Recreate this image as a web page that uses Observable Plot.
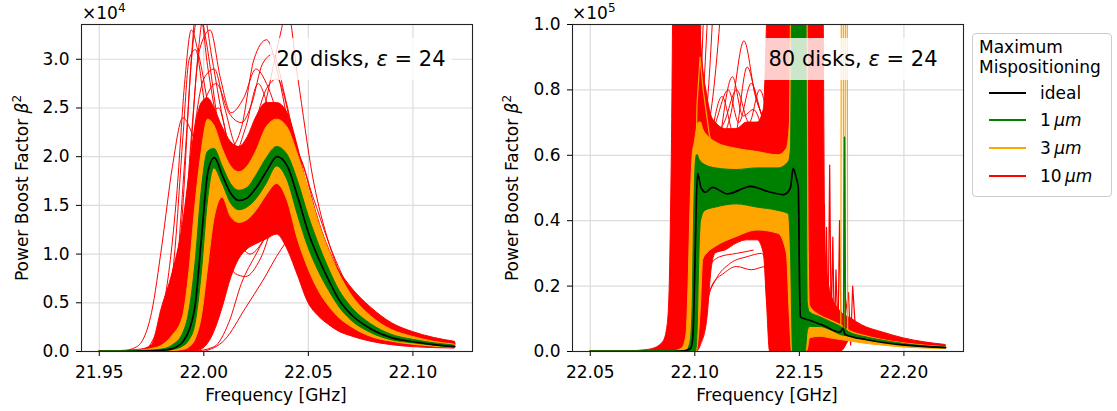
<!DOCTYPE html>
<html><head><meta charset="utf-8">
<script src="https://cdn.jsdelivr.net/npm/d3@7"></script>
<script src="https://cdn.jsdelivr.net/npm/@observablehq/plot@0.6"></script>
<style>
body{margin:0;background:#fff;font-family:"DejaVu Sans",sans-serif;}
#wrap{position:relative;width:1117px;height:411px;overflow:hidden;background:#fff;}
.abs{position:absolute;white-space:nowrap;color:#000;font-size:17px;line-height:20px;}
.panel{position:absolute;top:0;}
.ann{position:absolute;background:rgba(255,255,255,0.8);font-size:21px;line-height:42px;text-align:center;white-space:nowrap;}
#legend{position:absolute;left:972px;top:33px;width:140px;height:164px;border:1px solid #cccccc;border-radius:4px;background:rgba(255,255,255,0.85);box-sizing:border-box;}
.lg{position:absolute;height:0;border-top:2px solid;width:37px;}
sup{font-size:12px;line-height:0;}
</style></head><body><div id="wrap"></div>
<script>
// ---------- Left panel: 20 disks (values in units of 1e4) ----------
const fL = [21.95, 21.96, 21.97, 21.975, 21.98, 21.985, 21.99, 21.993, 21.996, 21.999, 22.002, 22.005, 22.009, 22.013, 22.017, 22.021, 22.025, 22.03, 22.035, 22.04, 22.045, 22.05, 22.055, 22.06, 22.065, 22.07, 22.08, 22.09, 22.10, 22.11, 22.12];
const idealL =   [0, 0, 0.003, 0.006, 0.012, 0.03, 0.1, 0.22, 0.5, 1.2, 1.85, 1.99, 1.8, 1.62, 1.55, 1.58, 1.68, 1.85, 2.0, 1.9, 1.58, 1.22, 0.95, 0.72, 0.52, 0.39, 0.23, 0.14, 0.10, 0.07, 0.05];
const greenHiL = [0, 0, 0.005, 0.01, 0.02, 0.06, 0.18, 0.4, 0.9, 1.65, 2.05, 2.08, 1.9, 1.72, 1.65, 1.68, 1.8, 1.98, 2.1, 2.02, 1.75, 1.4, 1.1, 0.84, 0.62, 0.47, 0.28, 0.17, 0.12, 0.085, 0.06];
const greenLoL = [0, 0, 0.001, 0.003, 0.006, 0.015, 0.05, 0.11, 0.28, 0.8, 1.55, 1.88, 1.72, 1.52, 1.45, 1.48, 1.56, 1.72, 1.9, 1.76, 1.4, 1.07, 0.82, 0.62, 0.45, 0.33, 0.19, 0.115, 0.085, 0.06, 0.043];
const orangeHiL = [0, 0.002, 0.01, 0.025, 0.06, 0.16, 0.35, 0.8, 1.5, 2.05, 2.38, 2.32, 2.08, 1.9, 1.84, 1.9, 2.05, 2.3, 2.38, 2.3, 2.02, 1.68, 1.32, 1.03, 0.79, 0.6, 0.36, 0.22, 0.15, 0.1, 0.07];
const orangeLoL = [0, 0, 0, 0, 0.001, 0.004, 0.015, 0.04, 0.12, 0.35, 0.85, 1.35, 1.58, 1.38, 1.32, 1.35, 1.44, 1.6, 1.72, 1.55, 1.15, 0.85, 0.62, 0.46, 0.34, 0.26, 0.15, 0.1, 0.07, 0.05, 0.04];
const redHiL = [0, 0.005, 0.02, 0.06, 0.45, 0.8, 1.3, 1.8, 2.3, 2.55, 2.6, 2.5, 2.3, 2.15, 2.1, 2.2, 2.4, 2.55, 2.55, 2.45, 2.1, 1.65, 1.3, 1.0, 0.82, 0.67, 0.45, 0.29, 0.2, 0.14, 0.1];
const redLoL = [0, 0, 0, 0, 0, 0, 0, 0, 0, 0.02, 0.08, 0.2, 0.45, 0.75, 0.95, 1.05, 1.1, 1.15, 1.2, 1.05, 0.78, 0.5, 0.36, 0.27, 0.2, 0.16, 0.1, 0.065, 0.045, 0.035, 0.03];
const redRunsL = [
  [[21.975,0],[21.985,0.3],[21.99,1.5],[21.994,3.0],[21.997,3.6],[22.001,3.2],[22.008,2.2],[22.016,1.8],[22.026,2.1],[22.034,2.5],[22.042,2.2],[22.05,1.5],[22.06,0.9],[22.08,0.35],[22.10,0.15],[22.12,0.08]],
  [[21.97,0],[21.98,0.2],[21.986,1.0],[21.99,2.2],[21.993,3.0],[21.996,3.1],[22.0,2.6],[22.008,1.7],[22.014,1.45],[22.022,1.7],[22.03,2.2],[22.036,2.3],[22.044,1.7],[22.05,1.2],[22.06,0.7],[22.08,0.28],[22.10,0.12],[22.12,0.06]],
  [[21.98,0],[21.99,0.4],[21.996,1.4],[22.002,2.3],[22.007,2.5],[22.013,2.1],[22.018,2.3],[22.024,3.0],[22.03,3.2],[22.036,2.8],[22.043,2.0],[22.05,1.3],[22.06,0.75],[22.08,0.3],[22.10,0.13],[22.12,0.07]],
  [[21.985,0],[21.995,0.6],[22.002,1.8],[22.008,2.1],[22.015,1.7],[22.022,1.9],[22.03,2.6],[22.036,3.2],[22.04,3.5],[22.045,2.8],[22.052,1.8],[22.06,1.1],[22.07,0.6],[22.09,0.22],[22.12,0.08]],
  [[21.99,0],[22.0,0.1],[22.008,0.6],[22.015,1.2],[22.02,1.25],[22.027,1.35],[22.036,1.75],[22.043,1.85],[22.05,1.5],[22.058,1.0],[22.068,0.6],[22.08,0.35],[22.10,0.15],[22.12,0.08]],
  [[21.995,0],[22.005,0.05],[22.012,0.3],[22.018,0.7],[22.025,1.0],[22.033,1.3],[22.042,1.55],[22.05,1.3],[22.06,0.85],[22.075,0.45],[22.10,0.17],[22.12,0.09]],
  [[21.975,0],[21.985,0.15],[21.992,0.8],[21.998,1.5],[22.003,1.75],[22.008,1.3],[22.015,0.8],[22.02,0.77],[22.027,0.95],[22.035,1.4],[22.04,1.5],[22.046,1.2],[22.055,0.7],[22.065,0.4],[22.08,0.2],[22.10,0.09],[22.12,0.05]],
  [[21.96,0],[21.968,0.05],[21.975,0.4],[21.98,1.1],[21.985,1.9],[21.99,2.4],[21.995,2.2],[22.003,1.6],[22.01,1.4],[22.018,1.6],[22.026,2.2],[22.032,2.4],[22.038,2.0],[22.045,1.3],[22.05,0.9],[22.06,0.45],[22.075,0.2],[22.10,0.08],[22.12,0.05]],
  [[21.975,0],[21.985,0.4],[21.99,1.2],[21.995,2.2],[22.0,2.8],[22.005,2.9],[22.01,2.5],[22.016,2.1],[22.022,2.2],[22.03,2.7],[22.035,2.8],[22.042,2.3],[22.05,1.6],[22.06,0.95],[22.08,0.38],[22.10,0.16],[22.12,0.09]],
  [[21.98,0],[21.988,0.5],[21.993,1.8],[21.997,3.0],[22.0,3.45],[22.004,3.0],[22.009,2.4],[22.014,2.0],[22.02,2.3],[22.026,2.75],[22.031,2.5],[22.04,1.9],[22.05,1.2],[22.06,0.7],[22.08,0.28],[22.12,0.07]],
  [[22.0,0],[22.01,0.12],[22.02,0.45],[22.028,0.72],[22.037,1.05],[22.045,1.25],[22.052,1.1],[22.06,0.75],[22.07,0.48],[22.085,0.25],[22.10,0.14],[22.12,0.08]],
  [[21.985,0],[21.992,0.5],[21.998,1.6],[22.003,2.0],[22.009,1.6],[22.016,1.2],[22.022,1.3],[22.03,1.8],[22.038,2.2],[22.046,2.0],[22.054,1.4],[22.064,0.8],[22.08,0.34],[22.10,0.15],[22.12,0.08]],
  [[21.978,0],[21.986,0.6],[21.991,2.0],[21.995,3.2],[21.998,3.5],[22.002,2.9],[22.01,2.0],[22.017,1.7],[22.024,2.0],[22.031,2.4],[22.039,2.1],[22.048,1.4],[22.06,0.75],[22.08,0.3],[22.12,0.07]],
  [[21.982,0],[21.989,0.7],[21.994,2.2],[21.998,3.1],[22.003,3.3],[22.008,2.8],[22.013,2.45],[22.019,2.6],[22.025,2.9],[22.03,2.75],[22.037,2.3],[22.046,1.6],[22.056,0.95],[22.075,0.38],[22.12,0.08]],
  [[21.983,0],[21.99,0.6],[21.996,1.9],[22.001,2.6],[22.006,2.75],[22.012,2.45],[22.018,2.35],[22.023,2.55],[22.028,2.95],[22.033,3.05],[22.039,2.6],[22.047,1.8],[22.057,1.05],[22.075,0.42],[22.12,0.09]],
  [[21.972,0],[21.981,0.5],[21.987,1.6],[21.991,2.8],[21.994,3.3],[21.998,3.0],[22.004,2.3],[22.011,1.8],[22.018,1.9],[22.026,2.35],[22.032,2.5],[22.04,2.05],[22.048,1.35],[22.06,0.65],[22.08,0.25],[22.12,0.06]],
  [[21.99,0],[21.998,0.4],[22.004,1.3],[22.01,1.6],[22.016,1.3],[22.022,1.25],[22.03,1.5],[22.038,1.95],[22.045,2.0],[22.052,1.6],[22.06,1.1],[22.072,0.55],[22.09,0.24],[22.12,0.09]],
  [[21.994,0],[22.003,0.3],[22.01,0.95],[22.016,1.1],[22.022,1.0],[22.03,1.2],[22.039,1.65],[22.047,1.7],[22.055,1.3],[22.065,0.8],[22.08,0.4],[22.10,0.18],[22.12,0.1]]
];

// ---------- Right panel: 80 disks (values in units of 1e5) ----------
const fIdealR = [22.05, 22.09, 22.095, 22.098, 22.099, 22.0995, 22.1, 22.1005, 22.1013, 22.103, 22.1052, 22.1084, 22.1156, 22.1267, 22.1346, 22.1425, 22.1457, 22.147, 22.1484, 22.1495, 22.1501, 22.1505, 22.1552, 22.1614, 22.1695, 22.1708, 22.1719, 22.1822, 22.1981, 22.22];
const idealR = [0, 0, 0.002, 0.01, 0.04, 0.12, 0.25, 0.4, 0.545, 0.5, 0.487, 0.502, 0.482, 0.505, 0.49, 0.48, 0.50, 0.56, 0.533, 0.5, 0.2, 0.105, 0.095, 0.08, 0.059, 0.07, 0.052, 0.036, 0.021, 0.012];
const fGreenR = [22.05, 22.096, 22.098, 22.099, 22.0995, 22.1, 22.1005, 22.101, 22.1015, 22.102, 22.103, 22.105, 22.11, 22.12, 22.13, 22.14, 22.145, 22.146, 22.147, 22.153, 22.154, 22.155, 22.16, 22.165, 22.17, 22.175, 22.18, 22.19, 22.20, 22.21, 22.22];
const greenHiR = [0, 0.001, 0.03, 0.15, 0.35, 0.5, 0.58, 0.6, 0.6, 0.59, 0.58, 0.57, 0.56, 0.555, 0.56, 0.56, 0.58, 0.62, 1.5, 1.5, 0.15, 0.12, 0.105, 0.09, 0.075, 0.055, 0.046, 0.033, 0.023, 0.016, 0.012];
const greenLoR = [0, 0, 0, 0, 0, 0, 0, 0.02, 0.1, 0.25, 0.4, 0.43, 0.44, 0.45, 0.44, 0.43, 0.42, 0.3, 0, 0, 0.06, 0.075, 0.075, 0.065, 0.05, 0.045, 0.038, 0.028, 0.019, 0.013, 0.01];
const fOrangeR = [22.05, 22.09, 22.094, 22.096, 22.097, 22.098, 22.099, 22.1, 22.101, 22.102, 22.103, 22.104, 22.106, 22.11, 22.12, 22.13, 22.14, 22.144, 22.1455, 22.1465, 22.1535, 22.1545, 22.155, 22.16, 22.165, 22.17, 22.175, 22.18, 22.19, 22.20, 22.21, 22.22];
const orangeHiR = [0, 0.001, 0.01, 0.05, 0.2, 0.45, 0.6, 0.64, 0.68, 0.7, 0.7, 0.68, 0.66, 0.64, 0.62, 0.61, 0.6, 0.62, 0.7, 1.5, 1.5, 0.3, 0.14, 0.11, 0.095, 0.08, 0.06, 0.05, 0.035, 0.025, 0.018, 0.013];
const orangeLoR = [0, 0, 0, 0, 0, 0, 0, 0, 0, 0.05, 0.15, 0.28, 0.3, 0.32, 0.35, 0.37, 0.36, 0.3, 0.1, 0, 0, 0.02, 0.04, 0.045, 0.04, 0.035, 0.03, 0.025, 0.018, 0.012, 0.009, 0.007];
const fRedR = [22.05, 22.07, 22.075, 22.08, 22.085, 22.087, 22.088, 22.089, 22.0905, 22.0995, 22.101, 22.103, 22.106, 22.108, 22.11, 22.115, 22.12, 22.125, 22.13, 22.133, 22.1345, 22.136, 22.146, 22.154, 22.161, 22.1625, 22.165, 22.17, 22.175, 22.18, 22.19, 22.20, 22.21, 22.22];
const redHiR = [0, 0.001, 0.003, 0.008, 0.03, 0.08, 0.2, 0.6, 1.5, 1.5, 1.5, 0.95, 0.78, 0.72, 0.7, 0.68, 0.68, 0.7, 0.7, 0.74, 1.0, 1.5, 1.5, 1.5, 1.5, 0.3, 0.18, 0.12, 0.1, 0.08, 0.058, 0.04, 0.028, 0.02];
const redLoR = [0, 0, 0, 0, 0, 0, 0, 0, 0, 0, 0, 0.02, 0.1, 0.25, 0.3, 0.31, 0.33, 0.34, 0.34, 0.3, 0.15, 0, 0, 0, 0, 0, 0, 0, 0.04, 0.035, 0.025, 0.017, 0.012, 0.009];
const redRunsR = [
  [[22.106,0.62],[22.11,0.7],[22.116,0.8],[22.121,0.7],[22.127,0.82],[22.132,0.72],[22.136,0.65]],
  [[22.11,0.62],[22.117,0.72],[22.1235,0.95],[22.129,0.78],[22.134,0.7]],
  [[22.108,0.66],[22.113,0.78],[22.119,0.66],[22.125,0.87],[22.13,0.76],[22.135,0.68]],
  [[22.112,0.64],[22.118,0.84],[22.123,0.72],[22.128,0.74],[22.133,0.66]],
  [[22.109,0.65],[22.114,0.7],[22.12,0.8],[22.126,0.7],[22.131,0.8],[22.136,0.66]],
  [[22.1005,0.3],[22.1025,0.9],[22.104,1.3]],
  [[22.101,0.4],[22.104,1.0],[22.106,1.3]],
  [[22.1015,0.5],[22.1055,0.95],[22.108,1.3]],
  [[22.102,0.55],[22.107,0.85],[22.1105,1.3]],
  [[22.103,0.6],[22.109,0.8],[22.113,1.1],[22.115,1.3]],
  [[22.1,0],[22.102,0.04],[22.105,0.14],[22.11,0.22],[22.117,0.27],[22.125,0.29],[22.132,0.3],[22.136,0.18],[22.138,0]],
  [[22.101,0],[22.104,0.08],[22.108,0.2],[22.114,0.24],[22.12,0.26],[22.127,0.25],[22.134,0.26],[22.137,0.1],[22.139,0]],
  [[22.1005,0],[22.1025,0.1],[22.106,0.25],[22.112,0.29],[22.12,0.3],[22.128,0.31]]
];
const redSpikesR = [[22.1615,0.05],[22.162,0.45],[22.1625,0.02],[22.163,0.38],[22.1637,0.04],[22.1645,0.57],[22.1652,0.06],[22.166,0.35],[22.1668,0.02],[22.1675,0.25],[22.1685,0.05],[22.1692,0.4],[22.17,0.03],[22.1735,0.18],[22.1745,0.02],[22.1755,0.2],[22.177,0.05]];
const orangeRunsR = [
  [[22.0985,0],[22.1,0.4],[22.101,0.75],[22.1025,0.9],[22.104,0.8],[22.107,0.66],[22.11,0.6]],
  [[22.1698,0.05],[22.1702,1.5],[22.1709,1.5],[22.1712,0.05]],
  [[22.1718,0.05],[22.1721,1.5],[22.1728,1.5],[22.1731,0.05]]
];
const greenSpikeR = [[22.1711,0.06],[22.1716,0.655],[22.1721,0.06]];

// ---------- Axis ticks ----------
const xTicksL = [21.95, 22.00, 22.05, 22.10];
const yTicksL = [0, 0.5, 1.0, 1.5, 2.0, 2.5, 3.0];
const xTicksR = [22.05, 22.10, 22.15, 22.20];
const yTicksR = [0, 0.2, 0.4, 0.6, 0.8, 1.0];

// ---------- helpers ----------
const band = (f, lo, hi) => f.map((x, i) => ({x, lo: lo[i], hi: hi[i]}));
const series = (f, v) => f.map((x, i) => ({x, y: v[i]}));
const RED = "#ff0000", ORANGE = "#ffa500", GREEN = "#008000";

function areaMark(data, color) {
  return Plot.areaY(data, {x: "x", y1: "lo", y2: "hi", fill: color, stroke: color, strokeWidth: 1, curve: "monotone-x", clip: true});
}
function runMark(pairs, color, curve = "monotone-x", w = 1) {
  return Plot.line(pairs, {x: d => d[0], y: d => d[1], stroke: color, strokeWidth: w, curve, clip: true});
}

function panel(opts) {
  return Plot.plot({
    width: opts.width, height: 411,
    marginLeft: opts.ml, marginRight: opts.mr, marginTop: 24, marginBottom: 60,
    style: {fontSize: "17px", fontFamily: "DejaVu Sans", color: "black", background: "transparent", overflow: "visible"},
    x: {domain: opts.xd, ticks: opts.xt, tickFormat: d => d.toFixed(2), tickSize: 5, tickPadding: 9, label: null},
    y: {domain: opts.yd, ticks: opts.yt, tickFormat: d => d.toFixed(1), tickSize: 5, tickPadding: 7, label: null},
    marks: [
      Plot.gridX(opts.xt, {stroke: "#dcdcdc", strokeOpacity: 1, strokeWidth: 1.2}),
      Plot.gridY(opts.yt, {stroke: "#dcdcdc", strokeOpacity: 1, strokeWidth: 1.2}),
      ...opts.marks,
      Plot.frame({stroke: "#222", strokeWidth: 1.1})
    ]
  });
}

const left = panel({
  width: 490, ml: 81, mr: 18, xd: [21.9415, 22.1285], yd: [0, 3.357], xt: xTicksL, yt: yTicksL,
  marks: [
    areaMark(band(fL, redLoL, redHiL), RED),
    ...redRunsL.map(p => runMark(p, RED)),
    areaMark(band(fL, orangeLoL, orangeHiL), ORANGE),
    areaMark(band(fL, greenLoL, greenHiL), GREEN),
    Plot.line(series(fL, idealL), {x: "x", y: "y", stroke: "black", strokeWidth: 1.7, curve: "monotone-x", clip: true})
  ]
});
const right = panel({
  width: 480, ml: 82, mr: 7, xd: [22.0415, 22.2285], yd: [0, 1], xt: xTicksR, yt: yTicksR,
  marks: [
    areaMark(band(fRedR, redLoR, redHiR), RED),
    ...redRunsR.map(p => runMark(p, RED)),
    runMark(redSpikesR, RED, "linear", 1.2),
    areaMark(band(fOrangeR, orangeLoR, orangeHiR), ORANGE),
    ...orangeRunsR.map(p => runMark(p, ORANGE, "linear", 1.2)),
    areaMark(band(fGreenR, greenLoR, greenHiR), GREEN),
    runMark(greenSpikeR, GREEN, "linear", 1.5),
    Plot.line(series(fIdealR, idealR), {x: "x", y: "y", stroke: "black", strokeWidth: 1.7, curve: "monotone-x", clip: true})
  ]
});

const wrap = document.getElementById("wrap");
left.classList.add("panel"); left.style.left = "0px";
right.classList.add("panel"); right.style.left = "490px";
wrap.appendChild(left); wrap.appendChild(right);

function html(str, cls, css) {
  const d = document.createElement("div");
  d.className = cls; d.innerHTML = str;
  Object.assign(d.style, css);
  wrap.appendChild(d);
  return d;
}
// exponent labels
html("&times;10<sup>4</sup>", "abs", {left: "82px", top: "3px"});
html("&times;10<sup>5</sup>", "abs", {left: "572px", top: "3px"});
// axis labels
html("Frequency [GHz]", "abs", {left: "276px", top: "385px", transform: "translateX(-50%)"});
html("Frequency [GHz]", "abs", {left: "767px", top: "385px", transform: "translateX(-50%)"});
html("Power Boost Factor <i>β</i><sup>2</sup>", "abs", {left: "22px", top: "188px", transform: "translate(-50%,-50%) rotate(-90deg)"});
html("Power Boost Factor <i>β</i><sup>2</sup>", "abs", {left: "512px", top: "188px", transform: "translate(-50%,-50%) rotate(-90deg)"});
// annotations
html("20 disks, <i>ε</i> = 24", "ann", {left: "270px", top: "38px", width: "182px"});
html("80 disks, <i>ε</i> = 24", "ann", {left: "762px", top: "38px", width: "182px"});
// legend
const lg = html("", "", {});
lg.id = "legend";
const legendItems = [["ideal", "black"], ["1&#8201;<i>μm</i>", GREEN], ["3&#8201;<i>μm</i>", ORANGE], ["10&#8201;<i>μm</i>", RED]];
const legendTitle = ["Maximum", "Mispositioning"];
html(legendTitle[0], "abs", {left: "979px", top: "37px"});
html(legendTitle[1], "abs", {left: "979px", top: "57px"});
const rowsY = [93, 119.5, 147.5, 175.5];
legendItems.forEach(([lab, col], i) => {
  html("", "lg", {left: "989px", top: (rowsY[i] - 1) + "px", borderTopColor: col});
  html(lab, "abs", {left: "1040px", top: (rowsY[i] - 10) + "px"});
});
</script></body></html>
